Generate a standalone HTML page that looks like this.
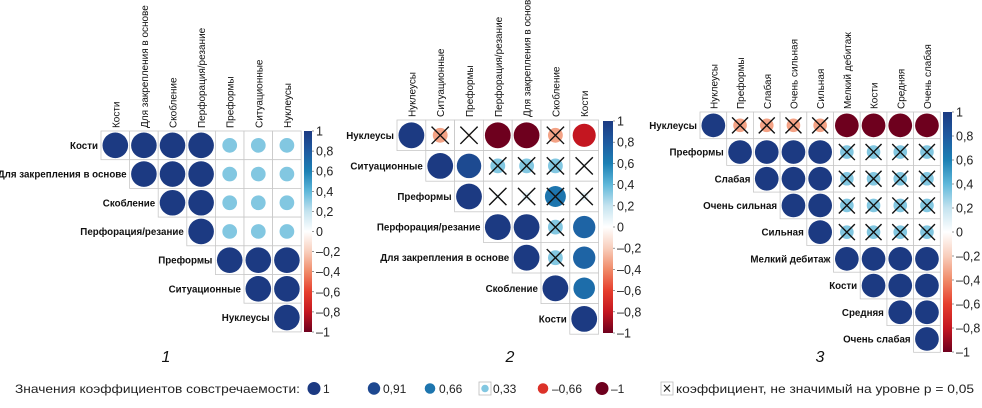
<!DOCTYPE html>
<html><head><meta charset="utf-8">
<style>
html,body{margin:0;padding:0;background:#fff;}
svg{display:block;font-family:"Liberation Sans",Arial,sans-serif;}
</style></head>
<body>
<svg id="fig" width="982" height="408" viewBox="0 0 982 408" xmlns="http://www.w3.org/2000/svg"></svg>
<script>
// ---- data ----
const labels1 = ["Кости","Для закрепления в основе","Скобление","Перфорация/резание","Преформы","Ситуационные","Нуклеусы"];
const values1 = [
 [1,1,1,1,0.33,0.33,0.33],
 [0,1,1,1,0.33,0.33,0.33],
 [0,0,1,1,0.33,0.33,0.33],
 [0,0,0,1,0.33,0.33,0.33],
 [0,0,0,0,1,1,1],
 [0,0,0,0,0,1,1],
 [0,0,0,0,0,0,1]];
const nonsig1 = [[],[],[],[],[],[],[]];

const labels2 = ["Нуклеусы","Ситуационные","Преформы","Перфорация/резание","Для закрепления в основе","Скобление","Кости"];
const values2 = [
 [1,-0.33,-0.05,-1,-1,-0.33,-0.8],
 [0,1,0.9,0.33,0.33,0.33,0.03],
 [0,0,1,0.05,0.1,0.66,0.1],
 [0,0,0,1,1,0.33,0.75],
 [0,0,0,0,1,0.33,0.75],
 [0,0,0,0,0,1,0.7],
 [0,0,0,0,0,0,1]];
const nonsig2 = [[1,2,5],[3,4,5,6],[3,4,5,6],[5],[5],[],[]];

const labels3 = ["Нуклеусы","Преформы","Слабая","Очень сильная","Сильная","Мелкий дебитаж","Кости","Средняя","Очень слабая"];
const values3 = [
 [1,-0.33,-0.33,-0.33,-0.33,-1,-1,-1,-1],
 [0,1,1,1,1,0.33,0.33,0.33,0.33],
 [0,0,1,1,1,0.33,0.33,0.33,0.33],
 [0,0,0,1,1,0.33,0.33,0.33,0.33],
 [0,0,0,0,1,0.33,0.33,0.33,0.33],
 [0,0,0,0,0,1,1,1,1],
 [0,0,0,0,0,0,1,1,1],
 [0,0,0,0,0,0,0,1,1],
 [0,0,0,0,0,0,0,0,1]];
const nonsig3 = [[1,2,3,4],[5,6,7,8],[5,6,7,8],[5,6,7,8],[5,6,7,8],[],[],[],[]];

const tickLabels = ["1","0,8","0,6","0,4","0,2","0","–0,2","–0,4","–0,6","–0,8","–1"];
const tickValues = [1,0.8,0.6,0.4,0.2,0,-0.2,-0.4,-0.6,-0.8,-1];
const legendValues = [1,0.91,0.66,0.33,-0.66,-1];
const legendLabels = ["1","0,91","0,66","0,33","–0,66","–1"];

// ---- helpers ----
const NS="http://www.w3.org/2000/svg";
const svg=document.getElementById('fig');
function mk(tag,attrs,parent){const e=document.createElementNS(NS,tag);for(const k in attrs)e.setAttribute(k,attrs[k]);(parent||svg).appendChild(e);return e;}
function squeeze(t,f){const L=t.getComputedTextLength();if(L>0){t.setAttribute('textLength',(L*f).toFixed(1));t.setAttribute('lengthAdjust','spacingAndGlyphs');}}
function fitTo(t,w){t.setAttribute('textLength',w);t.setAttribute('lengthAdjust','spacingAndGlyphs');}
const stops=[[-1,[110,0,30]],[-0.8,[196,22,32]],[-0.6,[230,62,45]],[-0.4,[240,138,104]],[-0.2,[248,206,188]],[0,[255,255,255]],[0.2,[196,227,239]],[0.4,[95,184,218]],[0.6,[28,128,180]],[0.8,[30,90,160]],[1,[28,58,130]]];
function color(v){v=Math.max(-1,Math.min(1,v));for(let i=0;i<stops.length-1;i++){const a=stops[i],b=stops[i+1];if(v<=b[0]){const t=(v-a[0])/(b[0]-a[0]);const c=a[1].map((x,j)=>Math.round(x+(b[1][j]-x)*t));return `rgb(${c[0]},${c[1]},${c[2]})`;}}return 'rgb(28,58,130)';}

function panel(id,left,top,cw,ch,labels,vals,nonsig,cb,num){
 const g=mk('g',{});
 
 
 const n=labels.length;
 const xs=i=>left+i*cw, ys=i=>top+i*ch;
 const R=Math.min(cw,ch)/2-1.5;
 for(let r=0;r<n;r++){
  for(let c=r;c<n;c++){
   const cell=mk('rect',{x:xs(c),y:ys(r),width:cw,height:ch,fill:'#fff',stroke:'#c8c8c8','stroke-width':0.8},g);
   
   
   const v=vals[r][c];
   const cx=xs(c)+cw/2, cy=ys(r)+ch/2;
   const rad=R*Math.sqrt(Math.abs(v));
   if(rad>0.5){
    const circ=mk('circle',{cx:cx,cy:cy,r:rad,fill:color(v)},g);
    
    
   }
   if(nonsig[r].includes(c)){
    const d=Math.min(cw,ch)*0.3;
    const xm=mk('path',{d:`M${cx-d},${cy-d}L${cx+d},${cy+d}M${cx+d},${cy-d}L${cx-d},${cy+d}`,stroke:'#111','stroke-width':1.4,fill:'none'},g);
    
    
   }
  }
  const rl=mk('text',{x:xs(r)-3,y:ys(r)+ch/2+3.5,'text-anchor':'end','font-size':10.5,'font-weight':'bold',fill:'#111'},g);
  rl.textContent=labels[r];
  
  
  squeeze(rl,0.93);
  const cxl=xs(r)+cw/2+4, cyl=top-3;
  const cl=mk('text',{x:cxl,y:cyl,transform:`rotate(-90 ${cxl} ${cyl})`,'font-size':10.5,fill:'#111'},g);
  cl.textContent=labels[r];
  
  
  squeeze(cl,0.95);
 }
 // colorbar
 const [bx,by,bw,bh]=cb;
 const gid='grad'+id;
 const defs=mk('defs',{},g);
 const lg=mk('linearGradient',{id:gid,x1:0,y1:0,x2:0,y2:1},defs);
 for(let i=stops.length-1;i>=0;i--){mk('stop',{offset:((1-stops[i][0])/2*100)+'%','stop-color':color(stops[i][0])},lg);}
 const bar=mk('rect',{x:bx,y:by,width:bw,height:bh,fill:`url(#${gid})`},g);
 
 
 tickValues.forEach((tv,i)=>{
  const ty=by+(1-tv)/2*bh;
  mk('line',{x1:bx+bw,x2:bx+bw+2,y1:ty,y2:ty,stroke:'#555','stroke-width':0.6},g);
  const t=mk('text',{x:bx+bw+4,y:ty+4.5,'font-size':12.5,fill:'#222'},g);
  t.textContent=tickLabels[i];
  
  
 });
 const pn=mk('text',{x:num[0],y:num[1],'font-size':16,'font-style':'italic','text-anchor':'middle',fill:'#111'},g);
 pn.textContent=num[2];
 
 
}

panel(1,101,131,28.6,28.7,labels1,values1,nonsig1,[304,131,8,201],[166,362,'1']);
panel(2,397,120,28.8,30.6,labels2,values2,nonsig2,[603,121,10,212],[510,362,'2']);
panel(3,700,112,26.7,26.7,labels3,values3,nonsig3,[943,112,9,240],[820,362,'3']);

// legend
const lgd=mk('g',{});


const lt=mk('text',{x:15,y:393,'font-size':12,fill:'#222'},lgd);
lt.textContent='Значения коэффициентов совстречаемости:';
fitTo(lt,285);
const lx=[314,374,430,485,543,602];
legendValues.forEach((v,i)=>{
 if(Math.abs(v)<0.5){mk('rect',{x:lx[i]-6,y:382,width:12,height:13,fill:'#fff',stroke:'#bbb','stroke-width':0.8},lgd);}
 const c=mk('circle',{cx:lx[i],cy:388.5,r:6.5*Math.sqrt(Math.abs(v)),fill:color(v)},lgd);
 
 
 const t=mk('text',{x:lx[i]+(Math.abs(v)<0.5?8:9),y:393,'font-size':12,fill:'#222'},lgd);
 t.textContent=legendLabels[i];
 
 
});
mk('rect',{x:661,y:382,width:12,height:13,fill:'#fff',stroke:'#bbb','stroke-width':0.8},lgd);
mk('path',{d:'M664,385L670,391.5M670,385L664,391.5',stroke:'#222','stroke-width':1.1},lgd);
const xt=mk('text',{x:676,y:393,'font-size':12,fill:'#222'},lgd);
xt.textContent='коэффициент, не значимый на уровне p = 0,05';


fitTo(xt,298);
</script>
</body></html>
